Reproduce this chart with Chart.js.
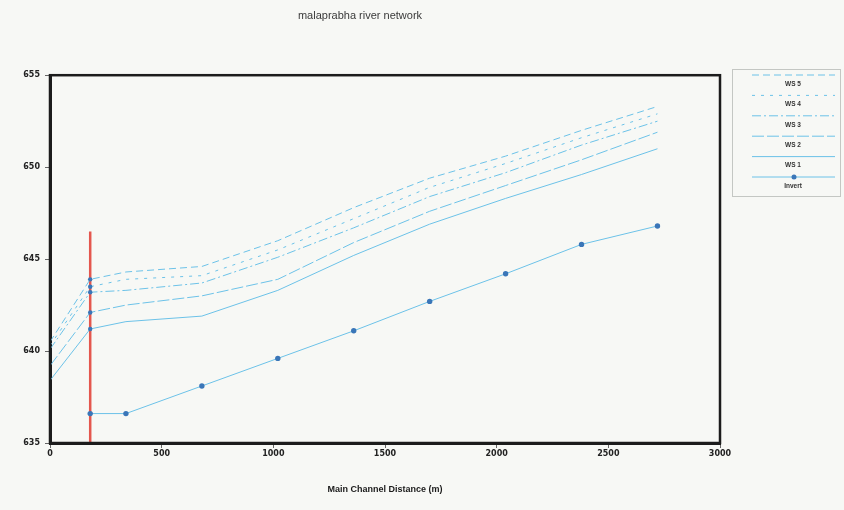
<!DOCTYPE html>
<html>
<head>
<meta charset="utf-8">
<title>malaprabha river network</title>
<script src="https://cdn.jsdelivr.net/npm/chart.js@4.4.1/dist/chart.umd.min.js"></script>
<style>
  body { margin: 0; background: #f7f8f5; }
  #wrap { width: 844px; height: 510px; }
</style>
</head>
<body>
<div id="wrap"><canvas id="profile"></canvas></div>
<script>
// main channel stations (m) and water surface / invert elevations (m)
const stations = [0, 180, 340, 680, 1020, 1360, 1700, 2040, 2380, 2720];
const ws5 = [640.5, 643.9, 644.3, 644.6, 646.0, 647.8, 649.4, 650.6, 652.0, 653.3];
const ws4 = [640.3, 643.5, 643.9, 644.1, 645.5, 647.2, 648.9, 650.2, 651.6, 652.9];
const ws3 = [640.1, 643.2, 643.3, 643.7, 645.1, 646.7, 648.4, 649.7, 651.2, 652.5];
const ws2 = [639.2, 642.1, 642.5, 643.0, 643.9, 645.9, 647.6, 649.0, 650.4, 651.9];
const ws1 = [638.4, 641.2, 641.6, 641.9, 643.3, 645.2, 646.9, 648.3, 649.6, 651.0];
const invert = [null, 636.6, 636.6, 638.1, 639.6, 641.1, 642.7, 644.2, 645.8, 646.8];
// structure drawn as a red vertical line
const bridgeStation = 180;
const bridgeElev = [635, 646.5];
const seriesNames = ["WS 5", "WS 4", "WS 3", "WS 2", "WS 1", "Invert"];

const lineBlue = "#6cc2e8";
const dotBlue = "#3a76b8";

const pts = vals => stations.map((s, i) => ({ x: s, y: vals[i] }));
const atBridge = c => (c.raw && c.raw.x === bridgeStation) ? 2.2 : 0;

function wsSet(label, vals, dash) {
  return {
    label, data: pts(vals), borderColor: lineBlue, borderWidth: 1,
    borderDash: dash, pointRadius: atBridge, pointBackgroundColor: dotBlue,
    pointBorderWidth: 0, tension: 0
  };
}

const datasets = [
  wsSet(seriesNames[0], ws5, [7, 4]),
  wsSet(seriesNames[1], ws4, [3, 6]),
  wsSet(seriesNames[2], ws3, [9, 3, 2, 3]),
  wsSet(seriesNames[3], ws2, [12, 3]),
  wsSet(seriesNames[4], ws1, []),
  {
    label: seriesNames[5], data: pts(invert), borderColor: lineBlue, borderWidth: 1,
    pointRadius: 2.7, pointBackgroundColor: dotBlue, pointBorderColor: dotBlue, pointBorderWidth: 0,
    marker: true
  },
  {
    label: "structure", data: bridgeElev.map(e => ({ x: bridgeStation, y: e })),
    borderColor: "#e4574e", borderWidth: 2.5, pointRadius: 0, noLegend: true
  }
];

// box frame round the plot
const frame = {
  id: "frame",
  afterDatasetsDraw(chart) {
    const a = chart.chartArea, ctx = chart.ctx;
    ctx.save();
    ctx.strokeStyle = "#1c1c1c";
    ctx.lineWidth = 2.5;
    ctx.strokeRect(a.left, a.top, a.right - a.left, a.bottom - a.top);
    ctx.restore();
  }
};

// legend box on the right: line sample with the name under it
const sideLegend = {
  id: "sideLegend",
  afterDraw(chart) {
    const ctx = chart.ctx;
    const items = chart.data.datasets.filter(d => !d.noLegend);
    ctx.save();
    ctx.strokeStyle = "#c4c7c3";
    ctx.lineWidth = 1;
    ctx.strokeRect(732.5, 69.5, 108, 127);
    ctx.font = "bold 6.5px 'Liberation Sans', Arial, sans-serif";
    ctx.textAlign = "center";
    ctx.textBaseline = "middle";
    items.forEach((d, i) => {
      const y = 75 + i * 20.4;
      ctx.strokeStyle = d.borderColor;
      ctx.lineWidth = 1;
      ctx.setLineDash(d.borderDash || []);
      ctx.beginPath();
      ctx.moveTo(752, y);
      ctx.lineTo(835, y);
      ctx.stroke();
      ctx.setLineDash([]);
      if (d.marker) {
        ctx.fillStyle = dotBlue;
        ctx.beginPath();
        ctx.arc(794, y, 2.5, 0, Math.PI * 2);
        ctx.fill();
      }
      ctx.fillStyle = "#333";
      ctx.fillText(d.label, 793, y + 9);
    });
    ctx.restore();
  }
};

new Chart(document.getElementById("profile"), {
  type: "line",
  data: { datasets },
  plugins: [frame, sideLegend],
  options: {
    responsive: true,
    maintainAspectRatio: false,
    animation: false,
    layout: { padding: { left: 0, right: 124, top: 0, bottom: 0 } },
    plugins: {
      legend: { display: false },
      tooltip: { enabled: false },
      title: {
        display: true,
        text: "malaprabha river network",
        color: "#3a3a3a",
        font: { family: "'Liberation Sans', Arial, sans-serif", size: 11, weight: "normal" },
        padding: { top: 9, bottom: 53 }
      }
    },
    scales: {
      x: {
        type: "linear", min: 0, max: 3000,
        afterFit: s => { s.height = 67; },
        ticks: {
          stepSize: 500, padding: 1, color: "#222",
          callback: v => String(v),
          font: { family: "'DejaVu Sans', sans-serif", size: 8, weight: "bold" }
        },
        grid: { drawOnChartArea: false, tickLength: 5, color: "#666" },
        border: { display: true, width: 3, color: "#1c1c1c" },
        title: {
          display: true, text: "Main Channel Distance (m)", color: "#1a1a1a",
          font: { family: "'Liberation Sans', Arial, sans-serif", size: 9, weight: "bold" },
          padding: { top: 0, bottom: 15 }
        }
      },
      y: {
        type: "linear", min: 635, max: 655,
        afterFit: s => { s.width = 50; },
        ticks: {
          stepSize: 5, padding: 5, color: "#222",
          callback: v => String(v),
          font: { family: "'DejaVu Sans', sans-serif", size: 8, weight: "bold" }
        },
        grid: { drawOnChartArea: false, tickLength: 5, color: "#666" },
        border: { display: true, width: 3, color: "#1c1c1c" }
      }
    }
  }
});
</script>
</body>
</html>
